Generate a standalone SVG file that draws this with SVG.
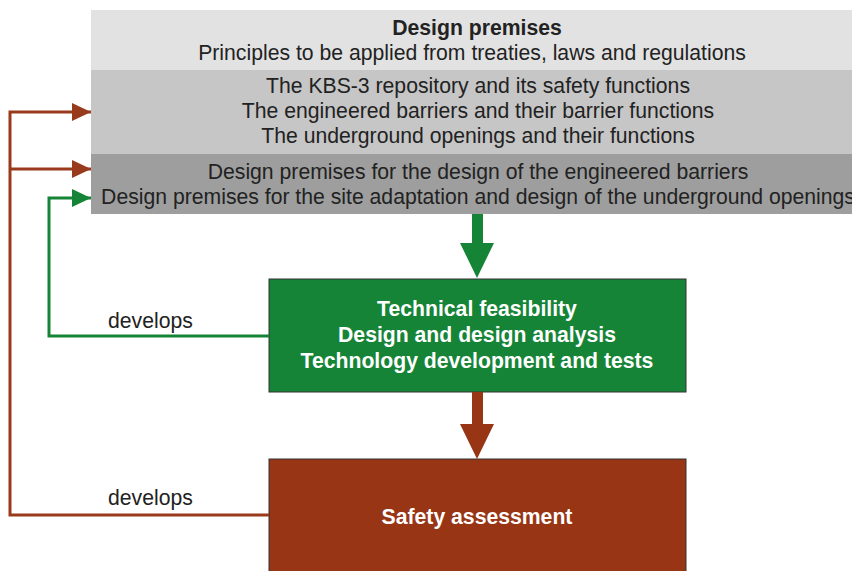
<svg xmlns="http://www.w3.org/2000/svg" width="852" height="571" viewBox="0 0 852 571">
<style>
text{font-family:"Liberation Sans",Arial,sans-serif;font-size:21.2px;fill:#222;text-anchor:middle}
.w{fill:#fff;font-weight:bold}
.lbl{text-anchor:start}
.red{stroke:#9a3a1c;stroke-width:3;fill:none}
.grn{stroke:#168437;stroke-width:3;fill:none}
</style>
<defs>
<marker id="ar" markerUnits="userSpaceOnUse" markerWidth="20" markerHeight="20" refX="19" refY="9" orient="auto"><path d="M0,0 L19,9 L0,18 Z" fill="#9a3a1c"/></marker>
<marker id="ag" markerUnits="userSpaceOnUse" markerWidth="20" markerHeight="20" refX="19" refY="9" orient="auto"><path d="M0,0 L19,9 L0,18 Z" fill="#168437"/></marker>
</defs>
<g id="premises">
<rect x="91" y="10" width="770" height="60" fill="#e2e2e2"/>
<rect x="91" y="70" width="770" height="84" fill="#c6c6c6"/>
<rect x="91" y="154" width="770" height="60" fill="#9e9e9e"/>
<text x="477" y="35" style="font-weight:bold">Design premises</text>
<text x="472" y="60">Principles to be applied from treaties, laws and regulations</text>
<text x="478" y="93">The KBS-3 repository and its safety functions</text>
<text x="478" y="118">The engineered barriers and their barrier functions</text>
<text x="478" y="143">The underground openings and their functions</text>
<text x="478" y="179">Design premises for the design of the engineered barriers</text>
<text x="478" y="204">Design premises for the site adaptation and design of the underground openings</text>
</g>
<g id="technical">
<rect x="269" y="279" width="417" height="113" fill="#168437" stroke="#333" stroke-width="1"/>
<text class="w" x="477" y="316">Technical feasibility</text>
<text class="w" x="477" y="342">Design and design analysis</text>
<text class="w" x="477" y="368">Technology development and tests</text>
</g>
<g id="safety">
<rect x="269" y="459" width="417" height="120" fill="#983515" stroke="#333" stroke-width="1"/>
<text class="w" x="477" y="524">Safety assessment</text>
</g>
<g id="connectors">
<path d="M472,214 H483 V243 H494 L477,278 L460,243 H472 Z" fill="#168437"/>
<path d="M472,392 H483 V424 H494 L477,459 L460,424 H472 Z" fill="#983515"/>
<path class="grn" d="M269,336 H49 V198 H91" marker-end="url(#ag)"/>
<path class="red" d="M269,515 H10 V112 H91" marker-end="url(#ar)"/>
<path class="red" d="M10,169 H91" marker-end="url(#ar)"/>
<text class="lbl" x="108" y="328">develops</text>
<text class="lbl" x="108" y="505">develops</text>
</g>
</svg>
